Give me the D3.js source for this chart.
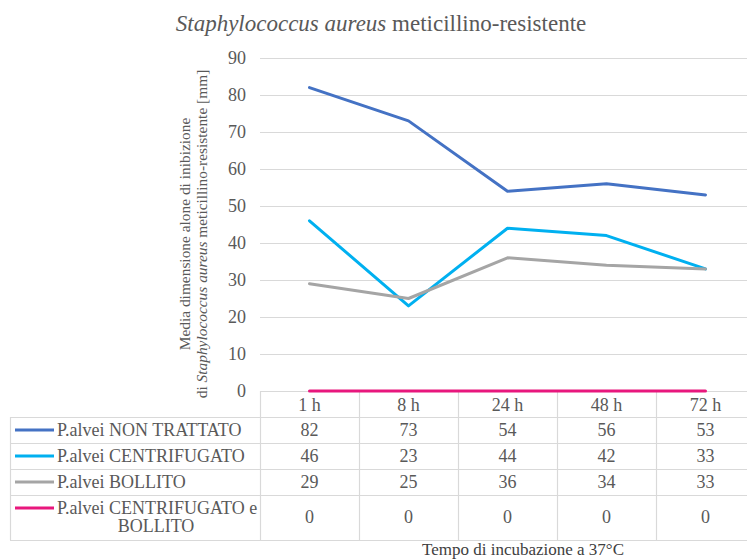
<!DOCTYPE html>
<html>
<head>
<meta charset="utf-8">
<script src="https://cdn.jsdelivr.net/npm/d3@7"></script>
<style>
  html, body { margin: 0; padding: 0; background: #fff; }
  svg { display: block; }
  svg text { font-family: "Liberation Serif", "Times New Roman", serif !important; }
</style>
</head>
<body>
<svg id="chart" width="747" height="560"></svg>
<script>
const categories = ["1 h", "8 h", "24 h", "48 h", "72 h"];
const seriesNames = ["P.alvei NON TRATTATO", "P.alvei CENTRIFUGATO", "P.alvei BOLLITO", "P.alvei CENTRIFUGATO e BOLLITO"];
const nonTrattato = [82, 73, 54, 56, 53];
const centrifugato = [46, 23, 44, 42, 33];
const bollito = [29, 25, 36, 34, 33];
const centrifugatoBollito = [0, 0, 0, 0, 0];
const yTicks = [0, 10, 20, 30, 40, 50, 60, 70, 80, 90];
const colors = ["#4472C4", "#00B0F0", "#A5A5A5", "#E8177D"];

const series = [nonTrattato, centrifugato, bollito, centrifugatoBollito].map((v, i) => ({name: seriesNames[i], values: v, color: colors[i]}));

const svg = d3.select("#chart");
const textColor = "#595959";
const gridColor = "#D9D9D9";
const tableFont = 18;

const plotLeft = 260, plotRight = 755, plotTop = 58, plotBottom = 391;
const x = d3.scaleBand().domain(categories).range([plotLeft, plotRight]);
const y = d3.scaleLinear().domain([0, 90]).range([plotBottom, plotTop]);

// Title
const title = svg.append("text").attr("x", 381).attr("y", 31).attr("text-anchor", "middle")
  .attr("font-size", 23).attr("fill", textColor);
title.append("tspan").attr("font-style", "italic").text("Staphylococcus aureus");
title.append("tspan").text(" meticillino-resistente");

// Gridlines
svg.append("g").selectAll("line").data(yTicks.filter(d => d > 0)).join("line")
  .attr("x1", plotLeft).attr("x2", plotRight)
  .attr("y1", d => y(d) + 0.5).attr("y2", d => y(d) + 0.5)
  .attr("stroke", gridColor).attr("stroke-width", 1.2);

// Y axis tick labels
const yAxis = d3.axisLeft(y).tickValues(yTicks).tickSize(0).tickPadding(14);
const gy = svg.append("g").attr("transform", `translate(${plotLeft},0)`).call(yAxis);
gy.select(".domain").remove();
gy.selectAll("text").attr("font-size", 18).attr("fill", textColor);

// Y axis title
const yt = svg.append("text").attr("transform", "translate(0,234) rotate(-90)")
  .attr("text-anchor", "middle").attr("font-size", 15.4).attr("fill", textColor);
yt.append("tspan").attr("x", 0).attr("y", 190).text("Media dimensione alone di inibizione");
const l2 = yt.append("tspan").attr("x", 0).attr("y", 207);
l2.append("tspan").text("di ");
l2.append("tspan").attr("font-style", "italic").text("Staphylococcus aureus");
l2.append("tspan").text(" meticillino-resistente [mm]");

// Table
const tableLeft = 10;
const rowBottoms = [417, 443, 469, 495, 540];
const rowCenters = [405, 430, 456, 482, 517];
const tg = svg.append("g");
tg.selectAll("line.h").data(rowBottoms).join("line").attr("class", "h")
  .attr("x1", tableLeft).attr("x2", plotRight).attr("y1", d => d + 0.5).attr("y2", d => d + 0.5)
  .attr("stroke", gridColor).attr("stroke-width", 1.2);
const colEdges = categories.map(c => x(c)).concat([plotRight]);
tg.selectAll("line.v").data(colEdges).join("line").attr("class", "v")
  .attr("x1", d => d + 0.5).attr("x2", d => d + 0.5).attr("y1", plotBottom).attr("y2", 540)
  .attr("stroke", gridColor).attr("stroke-width", 1.2);
tg.append("line").attr("x1", tableLeft + 0.5).attr("x2", tableLeft + 0.5).attr("y1", 417).attr("y2", 540)
  .attr("stroke", gridColor).attr("stroke-width", 1.2);
tg.append("line").attr("x1", plotLeft).attr("x2", plotRight).attr("y1", plotBottom + 0.5).attr("y2", plotBottom + 0.5)
  .attr("stroke", gridColor).attr("stroke-width", 1.2);

tg.selectAll("text.hdr").data(categories).join("text").attr("class", "hdr")
  .attr("x", d => x(d) + x.bandwidth() / 2).attr("y", rowCenters[0]).attr("dy", "0.35em")
  .attr("text-anchor", "middle").attr("font-size", tableFont).attr("fill", textColor).text(d => d);

series.forEach((s, i) => {
  const cy = rowCenters[i + 1];
  const sy = i === 3 ? 508 : cy;
  tg.append("line").attr("x1", 15).attr("x2", 54).attr("y1", sy).attr("y2", sy)
    .attr("stroke", s.color).attr("stroke-width", 3);
  if (i === 3) {
    tg.append("text").attr("x", 57).attr("y", 508).attr("dy", "0.35em").attr("font-size", tableFont).attr("fill", textColor).text("P.alvei CENTRIFUGATO e");
    tg.append("text").attr("x", 156).attr("y", 526).attr("dy", "0.35em").attr("text-anchor", "middle").attr("font-size", tableFont).attr("fill", textColor).text("BOLLITO");
  } else {
    tg.append("text").attr("x", 57).attr("y", cy).attr("dy", "0.35em").attr("font-size", tableFont).attr("fill", textColor).text(s.name);
  }
  tg.selectAll(null).data(s.values).join("text")
    .attr("x", (d, j) => x(categories[j]) + x.bandwidth() / 2).attr("y", cy).attr("dy", "0.35em")
    .attr("text-anchor", "middle").attr("font-size", tableFont).attr("fill", textColor).text(d => d);
});

// Lines
const line = d3.line().x((d, j) => x(categories[j]) + x.bandwidth() / 2).y(d => y(d));
svg.append("g").selectAll("path").data(series).join("path")
  .attr("d", d => line(d.values)).attr("fill", "none")
  .attr("stroke", d => d.color).attr("stroke-width", 3)
  .attr("stroke-linejoin", "round").attr("stroke-linecap", "round");

// X axis title
svg.append("text").attr("x", 523).attr("y", 555).attr("text-anchor", "middle")
  .attr("font-size", 17).attr("fill", "#404040").text("Tempo di incubazione a 37°C");
</script>
</body>
</html>
